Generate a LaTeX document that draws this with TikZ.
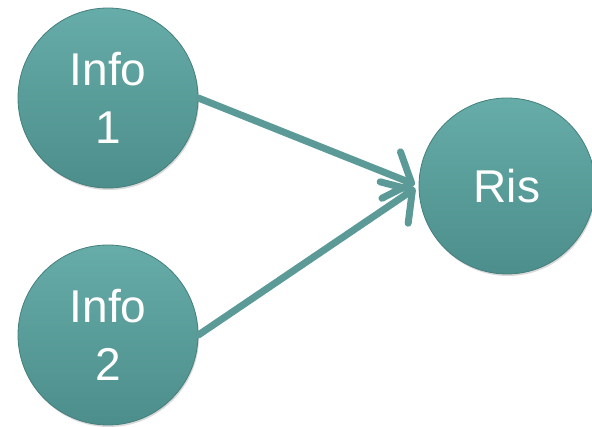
\documentclass[tikz,border=0pt]{standalone}
\usepackage{fontspec}
\setmainfont{Liberation Sans}
\usetikzlibrary{arrows.meta,shadows}
\definecolor{tealtop}{HTML}{66ACA8}
\definecolor{tealbot}{HTML}{4C8E8B}
\definecolor{tealedge}{HTML}{457F7D}
\definecolor{arrowc}{HTML}{5B9A97}
\tikzset{
  ball/.style={circle, minimum size=#1, inner sep=0pt, top color=tealtop, bottom color=tealbot,
    draw=tealedge, line width=0.8pt, text=white, align=center,
    font=\fontsize{46}{58}\selectfont,
    drop shadow={shadow xshift=1pt, shadow yshift=-2pt, opacity=0.15, fill=black}},
  link/.style={draw=arrowc, line width=7pt, line cap=round,
    -{Straight Barb[length=22pt,width=50pt,round]}, shorten >=4pt}
}
\begin{document}
\begin{tikzpicture}[x=1pt,y=-1pt]
\useasboundingbox (0,0) rectangle (592,427);
\node[ball=180pt] (i1) at (108,98) {Info\\1};
\node[ball=180pt] (i2) at (108,335) {Info\\2};
\node[ball=176pt] (ris) at (507,186) {Ris};
\draw[link] (i1.east) -- (ris.west);
\draw[link] (i2.east) -- (ris.west);
\end{tikzpicture}
\end{document}
